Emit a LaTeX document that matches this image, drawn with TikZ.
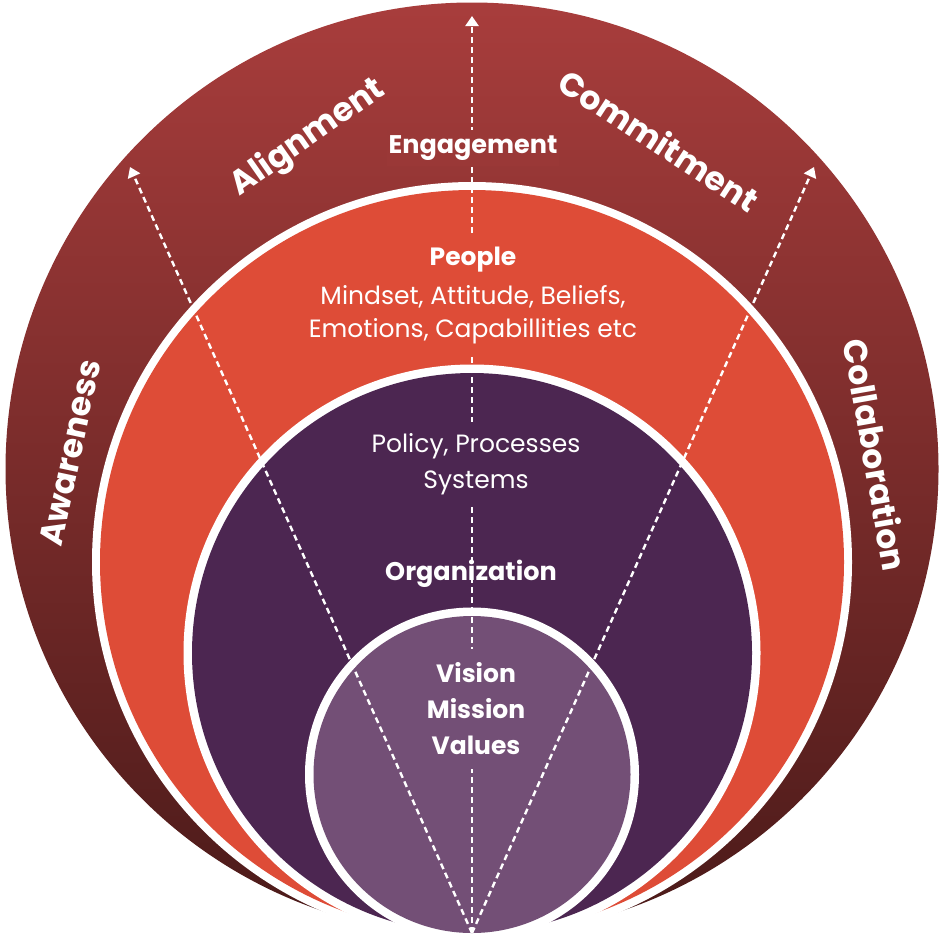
\documentclass[tikz,border=0pt]{standalone}
\usepackage{fontspec}
\setmainfont{Poppins}
\usetikzlibrary{arrows.meta}
\definecolor{outtop}{HTML}{A83D3C}
\definecolor{outbot}{HTML}{4A1A19}
\definecolor{peoplec}{HTML}{DE4C37}
\definecolor{orgc}{HTML}{4C2651}
\definecolor{corec}{HTML}{734F76}
\definecolor{engc}{HTML}{9A3837}
\begin{document}
\begin{tikzpicture}[x=1pt,y=-1pt,
  dashedarrow/.style={white, line width=2.4pt, dash pattern=on 6pt off 4pt, -{Triangle[width=13pt,length=10pt]}},
  bandlabel/.style={text=white, font=\bfseries\fontsize{33}{40}\selectfont, inner sep=0pt},
  headlabel/.style={text=white, font=\bfseries\fontsize{25.5}{30}\selectfont, align=center},
  bodylabel/.style={text=white, font=\fontsize{25}{33}\selectfont, align=center}]
\useasboundingbox (0,0) rectangle (944,943);
% circles
\shade[top color=outtop, bottom color=outbot] (472,469) circle (466.5pt);
\fill[white] (472,562) circle (380pt);
\fill[peoplec] (472,562) circle (372pt);
\fill[white] (472,653) circle (288.5pt);
\fill[orgc] (472,653) circle (280pt);
\fill[white] (472,774.5) circle (167pt);
\fill[corec] (472,774.5) circle (158.5pt);
% dashed arrows
\coordinate (base) at (472,933);
\coordinate (tipC) at (472,16);
\coordinate (tipL) at (130,167);
\coordinate (tipR) at (814,167);
\draw[dashedarrow] (base) -- (tipC);
\draw[dashedarrow] (base) -- (tipL);
\draw[dashedarrow] (base) -- (tipR);
% band labels
\node[bandlabel, rotate=35] (align) at (308,138) {Alignment};
\node[bandlabel, rotate=-33] (commit) at (659,140) {Commitment};
\node[bandlabel, rotate=78] (aware) at (70,453) {Awareness};
\node[bandlabel, rotate=-80] (collab) at (876,455) {Collaboration};
% inner labels
\node[headlabel, fill=engc, inner xsep=2pt, inner ysep=6pt] (eng) at (473,148) {Engagement};
\node[bodylabel, fill=peoplec, inner xsep=6pt, inner ysep=11pt] (people) at (473,295)
  {{\bfseries People}\\[6pt] Mindset, Attitude, Beliefs,\\ Emotions, Capabillities etc};
\node[bodylabel, fill=orgc, inner xsep=8pt, inner ysep=11pt, font=\fontsize{25}{36}\selectfont] (policy) at (476,464) {Policy, Processes\\ Systems};
\node[headlabel] (org) at (471,574) {Organization};
\node[headlabel, fill=corec, inner xsep=10pt, inner ysep=14pt, font=\bfseries\fontsize{25}{36}\selectfont] (core) at (476,709) {Vision\\ Mission\\ Values};
\end{tikzpicture}
\end{document}
